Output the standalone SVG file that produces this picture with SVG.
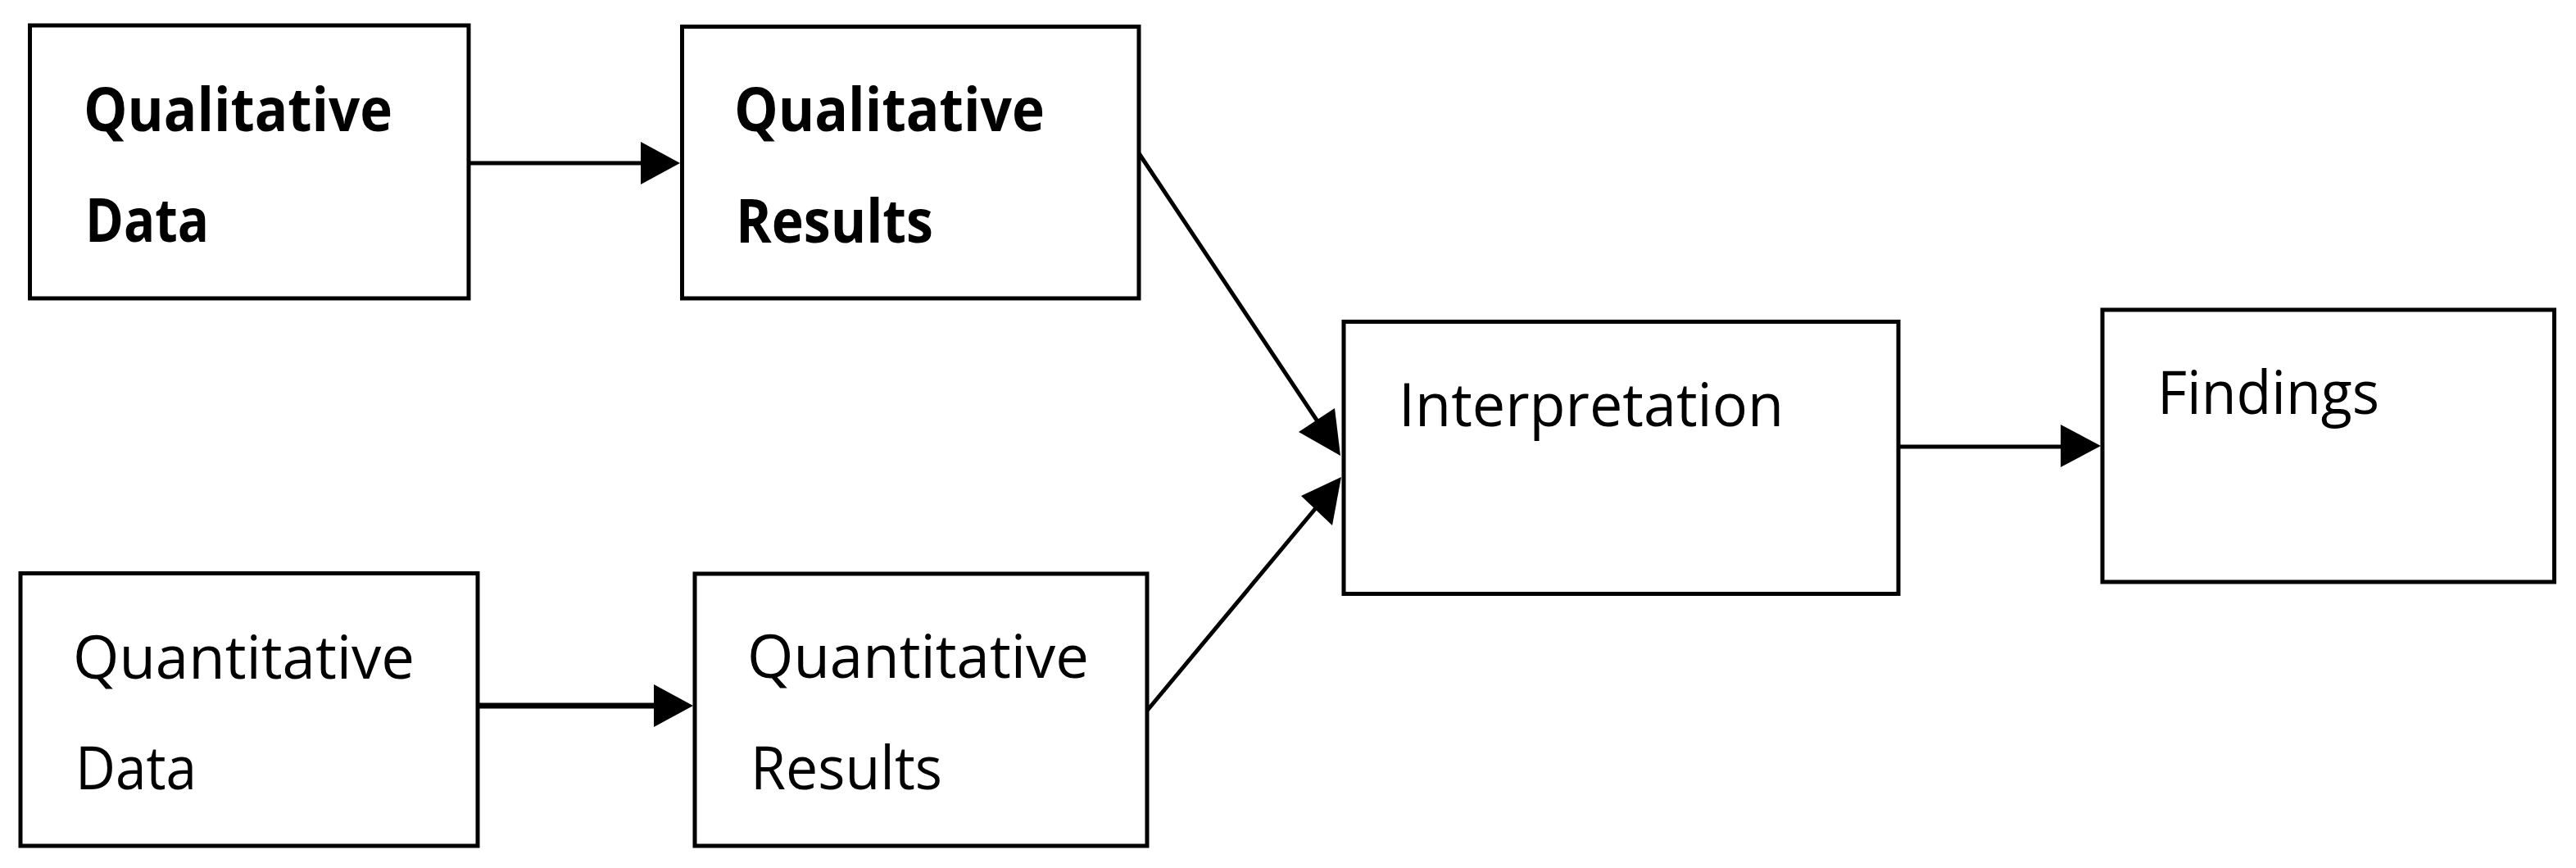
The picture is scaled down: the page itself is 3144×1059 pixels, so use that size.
<svg xmlns="http://www.w3.org/2000/svg" width="3144" height="1059" viewBox="0 0 3144 1059">
<style>
.box{fill:#fff;stroke:#000;stroke-width:5}
.t{font-family:"Open Sans","Noto Sans","Liberation Sans",sans-serif;font-size:74px;fill:#000}
.b{font-weight:bold}
.ln{stroke:#000;stroke-width:5;fill:none}
.ah{fill:#000;stroke:none}
</style>
<rect width="3144" height="1059" fill="#fff"/>
<g id="connectors">
<line class="ln" x1="574" y1="199" x2="785" y2="199"/>
<polygon class="ah" points="830,199 782,173 782,225"/>
<line class="ln" x1="585" y1="861" x2="800" y2="861" style="stroke-width:7"/>
<polygon class="ah" points="846,861 798,835 798,887"/>
<line class="ln" x1="1390" y1="187" x2="1610" y2="517"/>
<polygon class="ah" points="1636,556 1585,527 1629,498"/>
<line class="ln" x1="1400" y1="867" x2="1610" y2="615"/>
<polygon class="ah" points="1637,582 1588,605 1626,641"/>
<line class="ln" x1="2317" y1="545" x2="2518" y2="545"/>
<polygon class="ah" points="2564,544 2515,518 2515,570"/>
</g>
<g id="qualitative-data">
<rect class="box" x="36.5" y="31" width="535.5" height="333"/>
<text class="t b" x="102" y="160" textLength="377" lengthAdjust="spacingAndGlyphs">Qualitative</text>
<text class="t b" x="104" y="295" textLength="151" lengthAdjust="spacingAndGlyphs">Data</text>
</g>
<g id="qualitative-results">
<rect class="box" x="832.5" y="32.5" width="557.5" height="331.5"/>
<text class="t b" x="896" y="160" textLength="379" lengthAdjust="spacingAndGlyphs">Qualitative</text>
<text class="t b" x="898" y="296" textLength="241" lengthAdjust="spacingAndGlyphs">Results</text>
</g>
<g id="quantitative-data">
<rect class="box" x="25" y="699.5" width="558" height="332.5"/>
<text class="t" x="89" y="828" textLength="417" lengthAdjust="spacingAndGlyphs">Quantitative</text>
<text class="t" x="92" y="963" textLength="148" lengthAdjust="spacingAndGlyphs">Data</text>
</g>
<g id="quantitative-results">
<rect class="box" x="848" y="700" width="552" height="332"/>
<text class="t" x="912" y="827" textLength="417" lengthAdjust="spacingAndGlyphs">Quantitative</text>
<text class="t" x="916" y="963" textLength="234" lengthAdjust="spacingAndGlyphs">Results</text>
</g>
<g id="interpretation">
<rect class="box" x="1640" y="392.5" width="677" height="332"/>
<text class="t" x="1707" y="520" textLength="470" lengthAdjust="spacingAndGlyphs">Interpretation</text>
</g>
<g id="findings">
<rect class="box" x="2566" y="378" width="551.5" height="332"/>
<text class="t" x="2633" y="505" textLength="271" lengthAdjust="spacingAndGlyphs">Findings</text>
</g>
</svg>
